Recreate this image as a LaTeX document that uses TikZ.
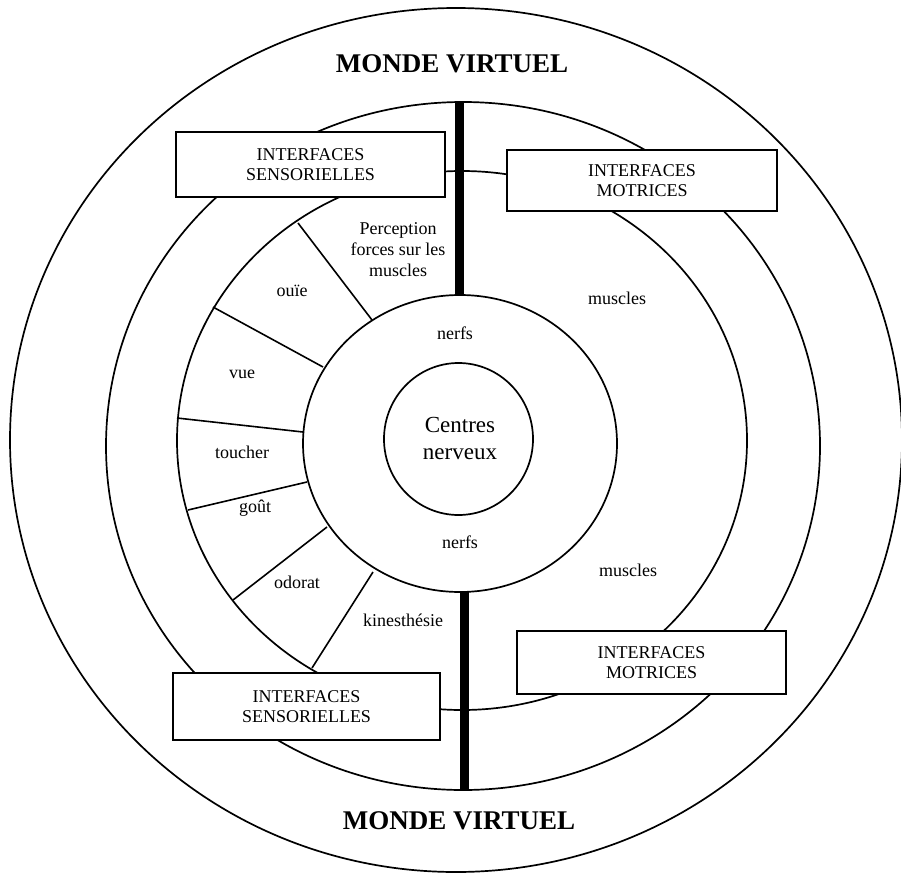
\documentclass[tikz,border=0pt]{standalone}
\usepackage{fontspec}
\setmainfont{Liberation Serif}
\begin{document}
\begin{tikzpicture}[x=1pt,y=-1pt,
  ring/.style={line width=1.7pt},
  divider/.style={line width=1.6pt},
  bar/.style={line width=9pt},
  ibox/.style={draw,fill=white,line width=1.7pt,align=center,inner sep=0pt,
    font=\fontsize{18}{20}\selectfont},
  lbl/.style={align=center,inner sep=0pt,font=\fontsize{18}{21}\selectfont},
  centre/.style={align=center,inner sep=0pt,font=\fontsize{23}{27}\selectfont},
  titletext/.style={inner sep=0pt,font=\fontsize{27}{30}\selectfont\bfseries}]
\useasboundingbox (0,0) rectangle (901,875);
\fill[white] (0,0) rectangle (901,875);

% rings
\draw[ring] (456,440) ellipse [x radius=446pt, y radius=432pt];
\draw[ring] (463,446) ellipse [x radius=357pt, y radius=344pt];
\draw[ring] (462,440.5) ellipse [x radius=285pt, y radius=269.5pt];
\draw[ring] (460,443.5) ellipse [x radius=157pt, y radius=148.5pt];
\draw[ring] (458.5,439) ellipse [x radius=74.5pt, y radius=76pt];

% sector dividers
\coordinate (i1) at (372,320); \coordinate (o1) at (298,223);
\coordinate (i2) at (323,367); \coordinate (o2) at (213,307);
\coordinate (i3) at (303,432); \coordinate (o3) at (177,418);
\coordinate (i4) at (307,482); \coordinate (o4) at (188,510);
\coordinate (i5) at (327,527); \coordinate (o5) at (233,600);
\coordinate (i6) at (373,572); \coordinate (o6) at (312,668);
\foreach \k in {1,...,6} \draw[divider] (i\k) -- (o\k);

% thick bars
\coordinate (bt1) at (459,102); \coordinate (bt2) at (459,296);
\coordinate (bb1) at (464,591); \coordinate (bb2) at (464,790);
\draw[bar] (bt1) -- (bt2);
\draw[bar] (bb1) -- (bb2);

% boxes
\node[ibox,minimum width=269pt,minimum height=65pt] (sensTop) at (310.5,164.5)
  {INTERFACES\\SENSORIELLES};
\node[ibox,minimum width=270pt,minimum height=61pt] (motTop) at (642,180.5)
  {INTERFACES\\MOTRICES};
\node[ibox,minimum width=267pt,minimum height=67pt] (sensBot) at (306.5,706.5)
  {INTERFACES\\SENSORIELLES};
\node[ibox,minimum width=269pt,minimum height=63pt] (motBot) at (651.5,662.5)
  {INTERFACES\\MOTRICES};

% titles
\node[titletext] (mvTop) at (452,64) {MONDE VIRTUEL};
\node[titletext] (mvBot) at (459,821) {MONDE VIRTUEL};

% labels
\node[lbl] (perc) at (398,250) {Perception\\forces sur les\\muscles};
\node[lbl] (ouie) at (292,291) {ouïe};
\node[lbl] (vue) at (242,374) {vue};
\node[lbl] (toucher) at (242,452) {toucher};
\node[lbl] (gout) at (255,508) {goût};
\node[lbl] (odorat) at (297,582) {odorat};
\node[lbl] (kine) at (403,620) {kinesthésie};
\node[lbl] (nerfsTop) at (455,333) {nerfs};
\node[lbl] (nerfsBot) at (460,542) {nerfs};
\node[centre] (centres) at (460,438) {Centres\\nerveux};
\node[lbl] (musTop) at (617,298) {muscles};
\node[lbl] (musBot) at (628,570) {muscles};
\end{tikzpicture}
\end{document}
